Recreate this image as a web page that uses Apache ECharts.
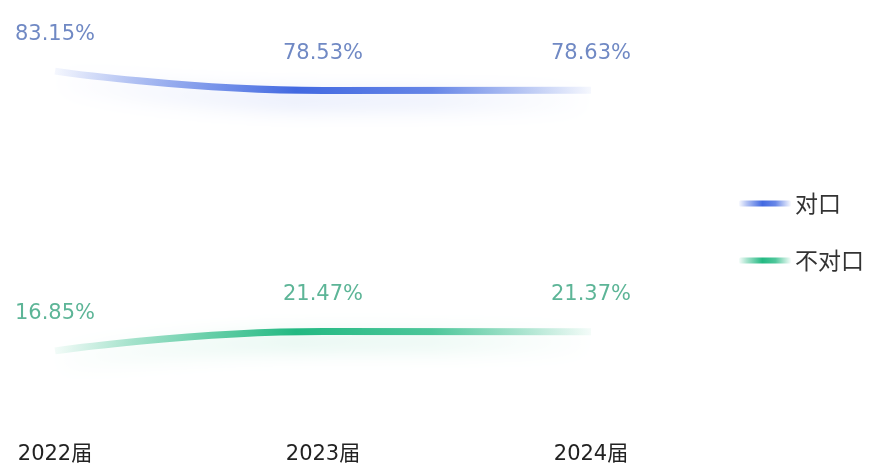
<!DOCTYPE html>
<html>
<head>
<meta charset="utf-8">
<script src="https://cdn.jsdelivr.net/npm/echarts@6/dist/echarts.min.js"></script>
<style>
html,body{margin:0;padding:0;background:#fff;}
#c{width:873px;height:469px;}
</style>
</head>
<body>
<div id="c"></div>
<script>
const categories = ['2022届', '2023届', '2024届'];
const matchValues = [83.15, 78.53, 78.63];
const mismatchValues = [16.85, 21.47, 21.37];
const seriesNames = ['对口', '不对口'];

const FONT = '"DejaVu Sans", "Noto Sans CJK SC", sans-serif';
const CJK = '"Noto Sans CJK SC", sans-serif';

function grad(r, g, b) {
  return new echarts.graphic.LinearGradient(0, 0, 1, 0, [
    { offset: 0, color: `rgba(${r},${g},${b},0.04)` },
    { offset: 0.15, color: `rgba(${r},${g},${b},0.4)` },
    { offset: 0.45, color: `rgba(${r},${g},${b},1)` },
    { offset: 0.7, color: `rgba(${r},${g},${b},0.8)` },
    { offset: 1, color: `rgba(${r},${g},${b},0.03)` }
  ]);
}
const BLUE = [66, 105, 225];
const GREEN = [35, 185, 130];

const chart = echarts.init(document.getElementById('c'));
chart.setOption({
  backgroundColor: '#fff',
  animation: false,
  grid: { left: 55, right: 282, top: -10, bottom: 47 },
  legend: {
    orient: 'vertical',
    right: 4,
    top: 187,
    icon: 'roundRect',
    itemWidth: 52,
    itemHeight: 6,
    itemGap: 34,
    textStyle: { fontSize: 23, color: '#333', fontFamily: CJK, padding: [0, 0, 0, -1] },
    data: [
      { name: seriesNames[0], itemStyle: { color: grad(...BLUE), opacity: 1 } },
      { name: seriesNames[1], itemStyle: { color: grad(...GREEN), opacity: 1 } }
    ]
  },
  xAxis: {
    type: 'category',
    data: categories,
    boundaryGap: false,
    axisLine: { show: false },
    axisTick: { show: false },
    splitLine: { show: false },
    axisLabel: { fontSize: 21, color: '#222', margin: 22, fontFamily: FONT }
  },
  yAxis: {
    type: 'value',
    min: 0,
    max: 100,
    show: false,
    splitLine: { show: false }
  },
  series: [
    {
      name: seriesNames[0],
      type: 'line',
      smooth: true,
      symbol: 'circle',
      symbolSize: 1,
      showSymbol: true,
      data: matchValues,
      lineStyle: {
        width: 7,
        color: grad(...BLUE),
        shadowColor: 'rgba(66,105,225,0.35)',
        shadowBlur: 22,
        shadowOffsetY: 10
      },
      itemStyle: { color: grad(...BLUE), opacity: 0 },
      label: {
        show: true,
        position: 'top',
        distance: 26,
        fontSize: 21,
        color: '#7089c4',
        opacity: 1,
        fontFamily: FONT,
        formatter: p => p.value.toFixed(2) + '%'
      }
    },
    {
      name: seriesNames[1],
      type: 'line',
      smooth: true,
      symbol: 'circle',
      symbolSize: 1,
      showSymbol: true,
      data: mismatchValues,
      lineStyle: {
        width: 7,
        color: grad(...GREEN),
        shadowColor: 'rgba(35,185,130,0.35)',
        shadowBlur: 22,
        shadowOffsetY: 10
      },
      itemStyle: { color: grad(...GREEN), opacity: 0 },
      label: {
        show: true,
        position: 'top',
        distance: 26,
        fontSize: 21,
        color: '#5db597',
        opacity: 1,
        fontFamily: FONT,
        formatter: p => p.value.toFixed(2) + '%'
      }
    }
  ]
});
</script>
</body>
</html>
